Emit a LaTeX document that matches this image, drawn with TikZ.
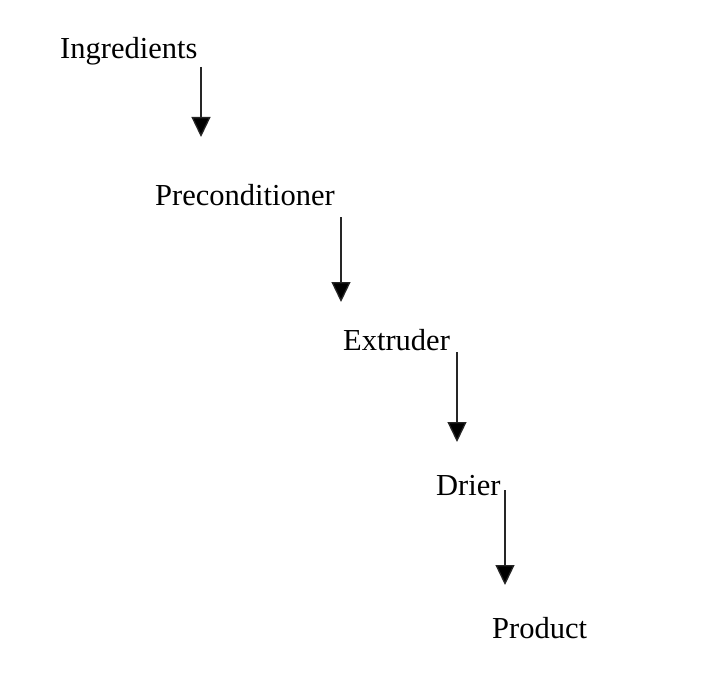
\documentclass[tikz,border=0pt]{standalone}
\usepackage{fontspec}
\setmainfont{Liberation Serif}
\usetikzlibrary{arrows.meta}
\begin{document}
\begin{tikzpicture}[x=1pt,y=-1pt,
  lbl/.style={anchor=base west,inner sep=0pt,font=\fontsize{30.5}{36}\selectfont},
  arr/.style={line width=1.3pt,draw=black!85,-{Triangle[width=19pt,length=20pt,fill=black]}}]
\useasboundingbox[fill=white] (0,0) rectangle (721,685);
\node[lbl] (ing) at (60,59) {Ingredients};
\node[lbl] (pre) at (155,205) {Preconditioner};
\node[lbl] (ext) at (343,350) {Extruder};
\node[lbl] (dri) at (436,495) {Drier};
\node[lbl] (pro) at (492,638) {Product};
\coordinate (s1) at (201,67);  \coordinate (e1) at (201,137);
\coordinate (s2) at (341,217); \coordinate (e2) at (341,302);
\coordinate (s3) at (457,352); \coordinate (e3) at (457,442);
\coordinate (s4) at (505,490); \coordinate (e4) at (505,585);
\draw[arr] (s1) -- (e1);
\draw[arr] (s2) -- (e2);
\draw[arr] (s3) -- (e3);
\draw[arr] (s4) -- (e4);
\end{tikzpicture}
\end{document}
